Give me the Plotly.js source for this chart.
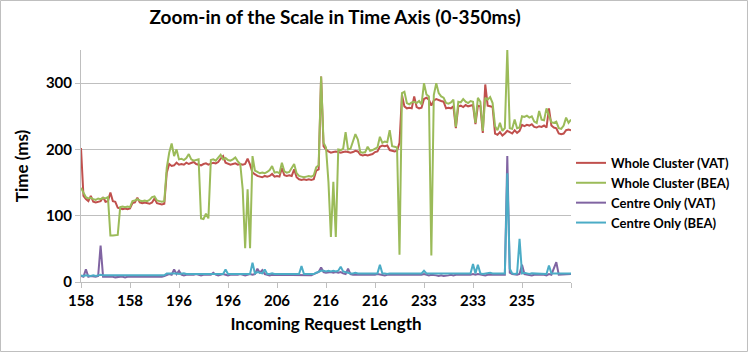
<!DOCTYPE html>
<html>
<head>
<meta charset="utf-8">
<script src="https://cdn.plot.ly/plotly-3.0.1.min.js"></script>
<style>
  html, body { margin: 0; padding: 0; background: #ffffff; }
  #chart { width: 748px; height: 352px; }
</style>
</head>
<body>
<div id="chart"></div>
<script>
// x labels shown every 20 requests (category axis)
const tickLabels = ['158', '158', '196', '196', '206', '216', '216', '233', '233', '235', ''];
const labelStep = 20;

const seriesNames = ['Whole Cluster (VAT)', 'Whole Cluster (BEA)', 'Centre Only (VAT)', 'Centre Only (BEA)'];
const seriesColors = ['#c0504d', '#9bbb59', '#8064a2', '#4bacc6'];

const wholeVAT = [
  202, 130, 125, 122, 130, 121, 120, 121, 122, 128,
  121, 122, 135, 122, 121, 112, 111, 110, 111, 110,
  111, 119, 120, 127, 120, 119, 120, 119, 118, 120,
  126, 119, 118, 117, 118, 165, 178, 175, 176, 180,
  177, 178, 177, 180, 178, 179, 181, 178, 177, 176,
  178, 179, 177, 178, 180, 179, 181, 186, 190, 180,
  179, 177, 178, 179, 177, 178, 177, 178, 186, 177,
  165, 162, 160, 159, 158, 160, 159, 160, 163, 159,
  160, 159, 172, 161, 160, 161, 160, 170, 158, 155,
  154, 155, 154, 155, 154, 155, 168, 170, 310, 205,
  200, 197, 195, 196, 197, 196, 195, 196, 197, 196,
  195, 196, 198, 197, 192, 191, 192, 191, 192, 193,
  196, 197, 204, 206, 205, 206, 199, 198, 197, 198,
  210, 282, 265, 262, 263, 262, 280, 264, 262, 263,
  276, 278, 275, 266, 274, 276, 274, 273, 272, 262,
  263, 262, 265, 232, 265, 266, 264, 267, 265, 266,
  267, 238, 266, 265, 225, 298, 266, 265, 264, 224,
  222, 226, 221, 224, 228, 226, 224, 229, 225, 228,
  237, 235, 237, 236, 238, 234, 233, 235, 234, 236,
  233, 262, 236, 233, 232, 224, 223, 224, 229, 230,
  229
];

const wholeBEA = [
  142, 135, 128, 126, 127, 125, 124, 126, 125, 127,
  126, 128, 70, 70, 70, 71, 113, 114, 113, 114,
  113, 122, 123, 125, 123, 122, 123, 122, 124, 128,
  129, 123, 122, 121, 122, 172, 195, 209, 190, 200,
  185, 186, 184, 187, 193, 185, 183, 184, 185, 96,
  95, 103, 96, 184, 185, 183, 187, 192, 185, 187,
  184, 183, 185, 188, 182, 178, 140, 51, 140, 51,
  190, 168, 166, 164, 165, 164, 166, 169, 175, 165,
  166, 164, 180, 167, 165, 166, 172, 178, 164, 160,
  159, 158, 159, 160, 159, 161, 173, 176, 310, 210,
  203, 151, 68, 151, 68, 200, 199, 201, 226, 200,
  201, 212, 223, 215, 196, 195, 196, 204, 198, 199,
  201, 203, 219, 210, 212, 211, 229, 205, 204, 203,
  41, 285, 287, 270, 268, 271, 272, 270, 273, 268,
  300, 283, 280, 40, 282, 300, 285, 280, 278, 270,
  269, 271, 275, 234, 272, 271, 276, 272, 270, 273,
  272, 240, 278, 272, 228, 278, 275, 279, 270, 235,
  229, 240, 228, 232, 350, 232, 231, 245, 232, 233,
  250, 249, 251, 248, 250, 242, 240, 258, 245, 244,
  262, 250, 241, 240, 242, 232, 231, 236, 248, 240,
  245
];

const centreVAT = [
  9, 8, 19, 8, 9, 8, 8, 9, 55, 8,
  8, 9, 8, 8, 7, 8, 8, 8, 7, 8,
  8, 8, 7, 8, 8, 8, 8, 7, 8, 8,
  8, 8, 8, 8, 9, 11, 12, 11, 19, 12,
  17, 11, 10, 11, 11, 10, 11, 12, 11, 10,
  11, 11, 10, 11, 14, 11, 10, 11, 12, 11,
  10, 11, 11, 10, 11, 12, 11, 10, 11, 12,
  11, 12, 20, 14, 18, 12, 11, 10, 11, 11,
  10, 11, 11, 10, 11, 10, 11, 11, 10, 11,
  11, 10, 11, 11, 10, 12, 14, 15, 22, 15,
  14, 15, 15, 14, 15, 14, 15, 13, 12, 20,
  12, 11, 11, 10, 11, 11, 10, 11, 11, 10,
  11, 12, 11, 11, 10, 11, 11, 10, 11, 11,
  10, 11, 11, 10, 11, 10, 11, 11, 10, 11,
  12, 11, 10, 11, 11, 10, 9, 10, 9, 9,
  10, 11, 10, 11, 11, 10, 11, 10, 11, 11,
  12, 11, 12, 11, 11, 10, 11, 11, 10, 11,
  11, 10, 11, 11, 190, 14, 12, 11, 11, 12,
  26, 12, 11, 11, 10, 11, 11, 12, 11, 11,
  10, 12, 11, 22, 30, 11, 11, 12, 12, 12,
  12
];

const centreBEA = [
  10, 9, 10, 9, 9, 10, 9, 10, 11, 10,
  10, 9, 10, 9, 9, 9, 9, 9, 9, 9,
  9, 9, 9, 9, 9, 9, 10, 9, 9, 9,
  9, 9, 9, 9, 10, 13, 13, 14, 13, 13,
  12, 13, 13, 12, 12, 13, 12, 12, 12, 13,
  12, 12, 13, 12, 12, 12, 13, 12, 12, 19,
  12, 12, 12, 13, 12, 12, 12, 12, 13, 12,
  29, 13, 15, 14, 13, 19, 12, 12, 13, 12,
  12, 13, 12, 12, 12, 12, 12, 12, 13, 12,
  24, 12, 12, 12, 12, 12, 14, 16, 17, 17,
  16, 17, 16, 17, 16, 17, 23, 16, 15, 13,
  13, 13, 14, 13, 13, 12, 13, 13, 13, 12,
  13, 13, 26, 13, 13, 12, 13, 13, 12, 12,
  13, 13, 12, 13, 13, 12, 13, 13, 12, 13,
  17, 13, 13, 13, 12, 13, 12, 12, 12, 13,
  12, 13, 13, 12, 13, 13, 12, 13, 12, 13,
  27, 13, 26, 13, 12, 13, 13, 14, 13, 13,
  13, 12, 13, 13, 164, 20, 13, 12, 13, 65,
  13, 14, 13, 12, 13, 13, 13, 13, 12, 13,
  12, 25, 13, 13, 13, 13, 13, 13, 13, 13,
  13
];

const fontFamily = 'Lato, "Open Sans", sans-serif';

function createTrace(values, name, color) {
    return {
        x: values.map((v, i) => i),
        y: values,
        type: 'scatter',
        mode: 'lines',
        name: name,
        line: { color: color, width: 2 },
        hoverinfo: 'skip'
    };
}

function createChart(selector) {
    const allSeries = [wholeVAT, wholeBEA, centreVAT, centreBEA];
    const traces = allSeries.map((s, k) => createTrace(s, seriesNames[k], seriesColors[k]));

    const tickVals = tickLabels.map((t, i) => i * labelStep);

    const layout = {
        width: 748,
        height: 352,
        title: {
            text: '<b>Zoom-in of the Scale in Time Axis (0-350ms)</b>',
            font: { family: fontFamily, size: 19, color: '#000000' },
            x: 0.448,
            xanchor: 'center',
            y: 0.95,
            yanchor: 'middle'
        },
        xaxis: {
            range: [0, 200],
            tickvals: tickVals,
            ticktext: tickLabels.map(t => '<b>' + t + '</b>'),
            tickangle: 0,
            ticks: 'outside',
            ticklen: 5,
            tickcolor: '#bfbfbf',
            showline: true,
            linecolor: '#bfbfbf',
            showgrid: false,
            zeroline: false,
            tickfont: { family: fontFamily, size: 15, color: '#000000' },
            title: {
                text: '<b>Incoming Request Length</b>',
                font: { family: fontFamily, size: 17, color: '#000000' },
                standoff: 10
            }
        },
        yaxis: {
            range: [0, 350],
            tickvals: [0, 100, 200, 300],
            ticktext: ['<b>0</b>', '<b>100</b>', '<b>200</b>', '<b>300</b>'],
            ticks: 'outside',
            ticklen: 5,
            tickcolor: '#bfbfbf',
            showline: true,
            linecolor: '#bfbfbf',
            showgrid: true,
            gridcolor: '#bfbfbf',
            zeroline: false,
            tickfont: { family: fontFamily, size: 15, color: '#000000' },
            title: {
                text: '<b>Time (ms)</b>',
                font: { family: fontFamily, size: 17, color: '#000000' },
                standoff: 12
            }
        },
        legend: {
            x: 1.0,
            xanchor: 'left',
            y: 0.384,
            yanchor: 'middle',
            itemwidth: 30,
            font: { family: fontFamily, size: 13, color: '#000000', weight: 'bold' },
            bgcolor: 'rgba(0,0,0,0)'
        },
        shapes: [{
            type: 'rect',
            xref: 'paper',
            yref: 'paper',
            x0: -0.1643, x1: 1.3602,
            y0: -0.2996, y1: 1.2134,
            line: { color: '#bfbfbf', width: 1 },
            layer: 'below'
        }],
        margin: { l: 81, r: 177, t: 50, b: 70, autoexpand: false },
        plot_bgcolor: '#ffffff',
        paper_bgcolor: '#ffffff',
        showlegend: true
    };

    Plotly.newPlot(selector, traces, layout, { displayModeBar: false, staticPlot: true });
}

createChart('chart');
</script>
</body>
</html>
